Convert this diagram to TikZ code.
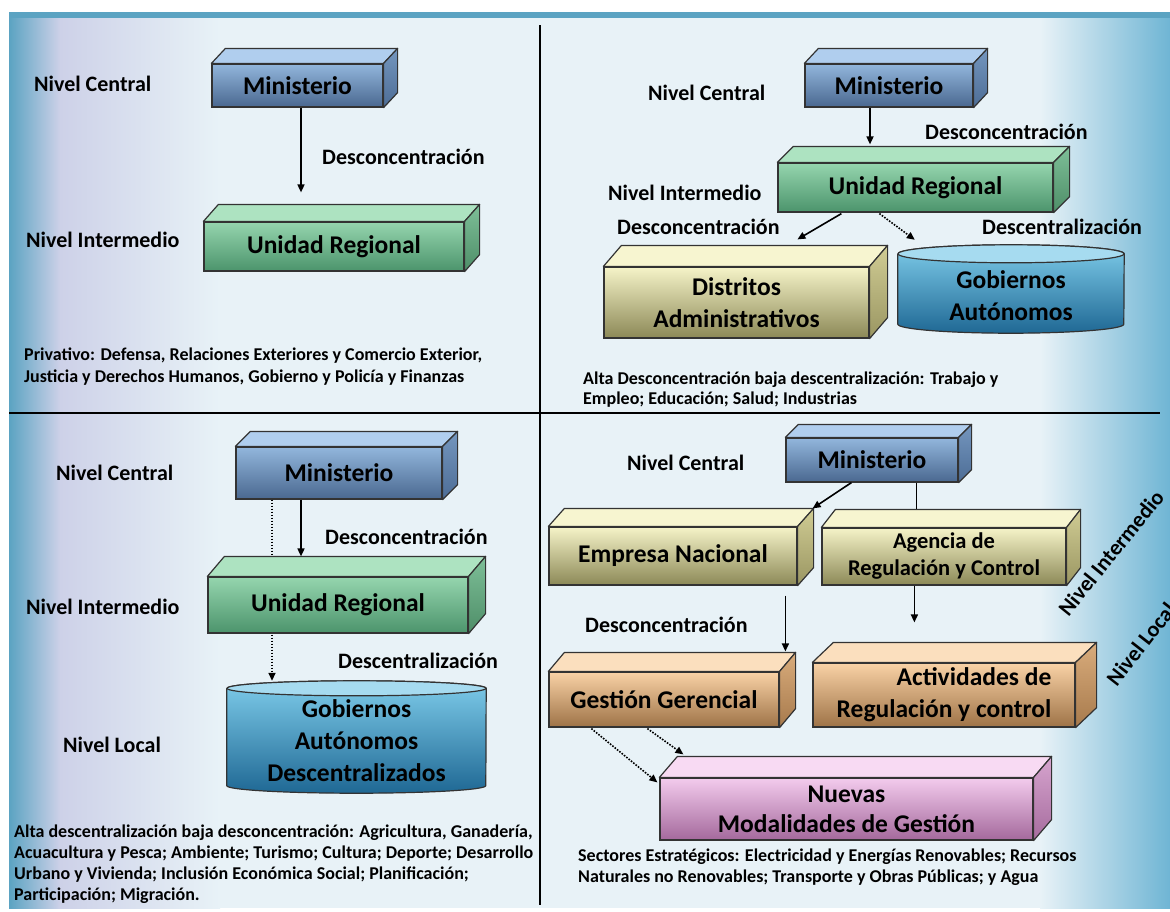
\documentclass[tikz,border=0pt]{standalone}
\usepackage{fontspec}
\setmainfont{Carlito}
\usetikzlibrary{arrows.meta,calc}
\definecolor{bgc}{HTML}{E8F2F7}
\definecolor{edgeB}{HTML}{5BA3C2}
\definecolor{lav}{HTML}{CDD1E8}
\definecolor{rb}{HTML}{6FB5D4}
\definecolor{blF}{HTML}{92B6DC}\definecolor{blB}{HTML}{4A6890}\definecolor{blT}{HTML}{B0CEEE}\definecolor{blS}{HTML}{7496BE}\definecolor{blD}{HTML}{4D6D96}
\definecolor{grF}{HTML}{95D5AE}\definecolor{grB}{HTML}{4C946C}\definecolor{grT}{HTML}{ADE3C1}\definecolor{grS}{HTML}{7EBF98}\definecolor{grD}{HTML}{4E8E68}
\definecolor{khF}{HTML}{F5F3C8}\definecolor{khB}{HTML}{8C8957}\definecolor{khT}{HTML}{F7F5D0}\definecolor{khS}{HTML}{D0CC94}\definecolor{khD}{HTML}{9A9662}
\definecolor{orF}{HTML}{F9D2A6}\definecolor{orB}{HTML}{9E7347}\definecolor{orT}{HTML}{FBDFBE}\definecolor{orS}{HTML}{D9AC7C}\definecolor{orD}{HTML}{A77A4C}
\definecolor{pkF}{HTML}{F3CBED}\definecolor{pkB}{HTML}{A4699C}\definecolor{pkT}{HTML}{F8DAF3}\definecolor{pkS}{HTML}{D6A4CE}\definecolor{pkD}{HTML}{A66C9E}
\definecolor{cyT}{HTML}{7ECCEA}\definecolor{cyB}{HTML}{1F6894}\definecolor{cyE}{HTML}{A6DBF0}
\tikzset{
  lbl/.style={font=\fontsize{22}{26}\selectfont\bfseries, inner sep=0pt, anchor=base west},
  boxnode/.style={draw=black!80, line width=1.2pt, font=\fontsize{25.5}{32}\selectfont\bfseries, align=center, inner sep=0pt},
  boxtext/.style={font=\fontsize{25.5}{32}\selectfont\bfseries, align=center, inner sep=0pt},
  face/.style={draw=black!80, line width=1.2pt, line join=round},
  arr/.style={-{Triangle[length=8pt,width=7pt]}, line width=1.6pt},
  plainline/.style={line width=1.6pt},
  dotarr/.style={-{Triangle[length=8pt,width=7pt]}, line width=1.6pt, dash pattern=on 1.6pt off 1.4pt},
  stxt/.style={inner sep=0pt, anchor=north west, align=left},
  divider/.style={line width=2.4pt}
}
\newcommand\cubebox[9][]{%
  \node[boxnode, minimum width=#5pt, minimum height=#6pt, top color=#8F, bottom color=#8B, #1] (#2) at (#3,#4) {#9};
  \path[face, fill=#8T] (#2.north west) -- ++#7 -- ($(#2.north east)+#7$) -- (#2.north east) -- cycle;
  \path[face, top color=#8S, bottom color=#8D] (#2.north east) -- ++#7 -- ($(#2.south east)+#7$) -- (#2.south east) -- cycle;
}
\newcommand\cylbox[8]{%
  \node[minimum width=#4pt, minimum height=#5pt, inner sep=0pt] (#1) at (#2,#3) {};
  \path[face, top color=cyT, bottom color=cyB] ($(#1.north west)+(0,#6)$) -- ($(#1.south west)+(0,-#6)$)
     arc[start angle=180, end angle=360, x radius=#4/2*1pt, y radius=#6pt]
     -- ($(#1.north east)+(0,#6)$)
     arc[start angle=0, end angle=180, x radius=#4/2*1pt, y radius=#6pt] -- cycle;
  \path[face, fill=cyE] ($(#1.north)+(0,#6)$) ellipse[x radius=#4/2*1pt, y radius=#6pt];
  \node[boxtext] (#1t) at ($(#1.center)+(0,#8)$) {#7};
}
\begin{document}
\begin{tikzpicture}[x=1pt,y=-1pt]
\useasboundingbox (0,0) rectangle (1170,911);
\fill[white] (0,0) rectangle (1170,911);
% background
\fill[bgc] (9,12) rectangle (1170,908);
\shade[left color=edgeB, right color=lav] (9,12) rectangle (60,908);
\shade[left color=lav, right color=bgc] (60,12) rectangle (220,908);
\shade[left color=bgc, right color=rb] (1040,12) rectangle (1170,908);
\fill[edgeB] (9,12) rectangle (1170,18);
% dividers
\draw[divider] (540,25) -- (540,905);
\draw[divider] (9,413) -- (1160,413);

% ---------- Q1 ----------
\cubebox{m1}{297.5}{85.5}{171}{43}{(14,-15)}{bl}{Ministerio}
\cubebox{u1}{334}{246.5}{260}{49}{(15,-17)}{gr}{Unidad Regional}
\draw[arr] ($(m1.south)+(3.5,0)$) -- ($(m1.south |- u1.north)+(3.5,-29)$);
\node[lbl] (q1c) at (34,91) {Nivel Central};
\node[lbl] (q1i) at (26,247) {Nivel Intermedio};
\node[lbl] (q1d) at (322,164) {Desconcentración};
\node[stxt, font=\fontsize{18}{22}\selectfont\bfseries] (t1) at (24,347.5)
  {Privativo: Defensa, Relaciones Exteriores y Comercio Exterior,\\Justicia y Derechos Humanos, Gobierno y Policía y Finanzas};

% ---------- Q2 ----------
\cubebox{m2}{889}{85.5}{168}{43}{(14,-15)}{bl}{Ministerio}
\cubebox{u2}{915.5}{187.5}{275}{49}{(16,-16)}{gr}{Unidad Regional}
\cubebox{d2}{736.5}{302.5}{265}{71}{(18,-21)}{kh}{Distritos\\Administrativos}
\cylbox{g2}{1011}{289}{226}{88}{9}{Gobiernos\\Autónomos}{7}
\draw[arr] ($(m2.south)+(-19,0)$) -- ($(m2.south |- u2.north)+(-19,-18)$);
\draw[arr] ($(u2.south west)+(64,1)$) -- ($(d2.north west)+(194,-27)$);
\draw[dotarr] ($(u2.south west)+(102,1)$) -- ($(g2.north west)+(17,-5)$);
\node[lbl] (q2c) at (648,100) {Nivel Central};
\node[lbl] (q2d) at (925,139) {Desconcentración};
\node[lbl] (q2i) at (608,200) {Nivel Intermedio};
\node[lbl] (q2d2) at (617,234) {Desconcentración};
\node[lbl] (q2e) at (982,234) {Descentralización};
\node[stxt, font=\fontsize{18}{19.5}\selectfont\bfseries] (t2) at (583,372)
  {Alta Desconcentración baja descentralización: Trabajo y\\Empleo; Educación; Salud; Industrias};

% ---------- Q3 ----------
\cubebox{m3}{339}{473}{206}{52}{(15,-15)}{bl}{Ministerio}
\cylbox{g3}{356.5}{737}{259}{112}{7.5}{Gobiernos\\Autónomos\\Descentralizados}{3.5}
\draw[dotarr] ($(m3.south)+(-67,0)$) -- ($(m3.south |- g3.north)+(-67,0)$);
\cubebox{u3}{338}{605}{260}{56}{(17,-20)}{gr}{Unidad Regional}
\draw[arr] ($(m3.south)+(-38,0)$) -- ($(m3.south |- u3.north)+(-38,-20)$);
\node[lbl] (q3c) at (56,480) {Nivel Central};
\node[lbl] (q3d) at (325,544) {Desconcentración};
\node[lbl] (q3i) at (26,614) {Nivel Intermedio};
\node[lbl] (q3e) at (338,668) {Descentralización};
\node[lbl] (q3l) at (63,752) {Nivel Local};
\node[stxt, font=\fontsize{18}{21}\selectfont\bfseries] (t3) at (14,824.5)
  {Alta descentralización baja desconcentración: Agricultura, Ganadería,\\Acuacultura y Pesca; Ambiente; Turismo; Cultura; Deporte; Desarrollo\\Urbano y Vivienda; Inclusión Económica Social; Planificación;\\Participación; Migración.};

% ---------- Q4 ----------
\cubebox{m4}{872}{460}{172}{44}{(13,-13)}{bl}{Ministerio}
\cubebox{e4}{673}{556}{248}{58}{(16,-18)}{kh}{Empresa Nacional}
\cubebox[font=\fontsize{22.5}{27}\selectfont\bfseries]{a4}{944}{556.5}{244}{57}{(14,-18)}{kh}{Agencia de\\Regulación y Control}
\cubebox{g4}{664}{699.5}{230}{55}{(16,-19)}{or}{Gestión Gerencial}
\cubebox[align=right]{r4}{944}{695}{262}{64}{(21,-20)}{or}{Actividades de\\Regulación y control}
\cubebox[font=\fontsize{25.5}{30}\selectfont\bfseries]{n4}{846.5}{809}{373}{62}{(18,-21)}{pk}{Nuevas\\Modalidades de Gestión}
\draw[arr] ($(m4.south west)+(66,0)$) -- ($(e4.north east)+(15,-18)$);
\draw[plainline] ($(m4.south west)+(131,0)$) -- ($(m4.south west |- a4.north)+(131,-18)$);
\draw[arr] ($(e4.south west)+(237,10)$) -- ($(e4.south west |- g4.north)+(237,-20)$);
\draw[arr] ($(a4.south west)+(93,0)$) -- ($(a4.south west |- r4.north)+(93,-40)$);
\draw[dotarr] ($(g4.south west)+(43,1)$) -- ($(n4.north west)+(-2,5)$);
\draw[dotarr] ($(g4.south west)+(99,1)$) -- ($(n4.north west)+(24,-23)$);
\node[lbl] (q4c) at (627,470) {Nivel Central};
\node[lbl] (q4d) at (585,632) {Desconcentración};
\node[lbl, anchor=center, rotate=51] (q4i) at (1111,553) {Nivel Intermedio};
\node[lbl, anchor=center, rotate=52] (q4l) at (1141,644) {Nivel Local};
\node[stxt, font=\fontsize{18}{21.5}\selectfont\bfseries] (t4) at (578,848.5)
  {Sectores Estratégicos: Electricidad y Energías Renovables; Recursos\\Naturales no Renovables; Transporte y Obras Públicas; y Agua};
\end{tikzpicture}
\end{document}
